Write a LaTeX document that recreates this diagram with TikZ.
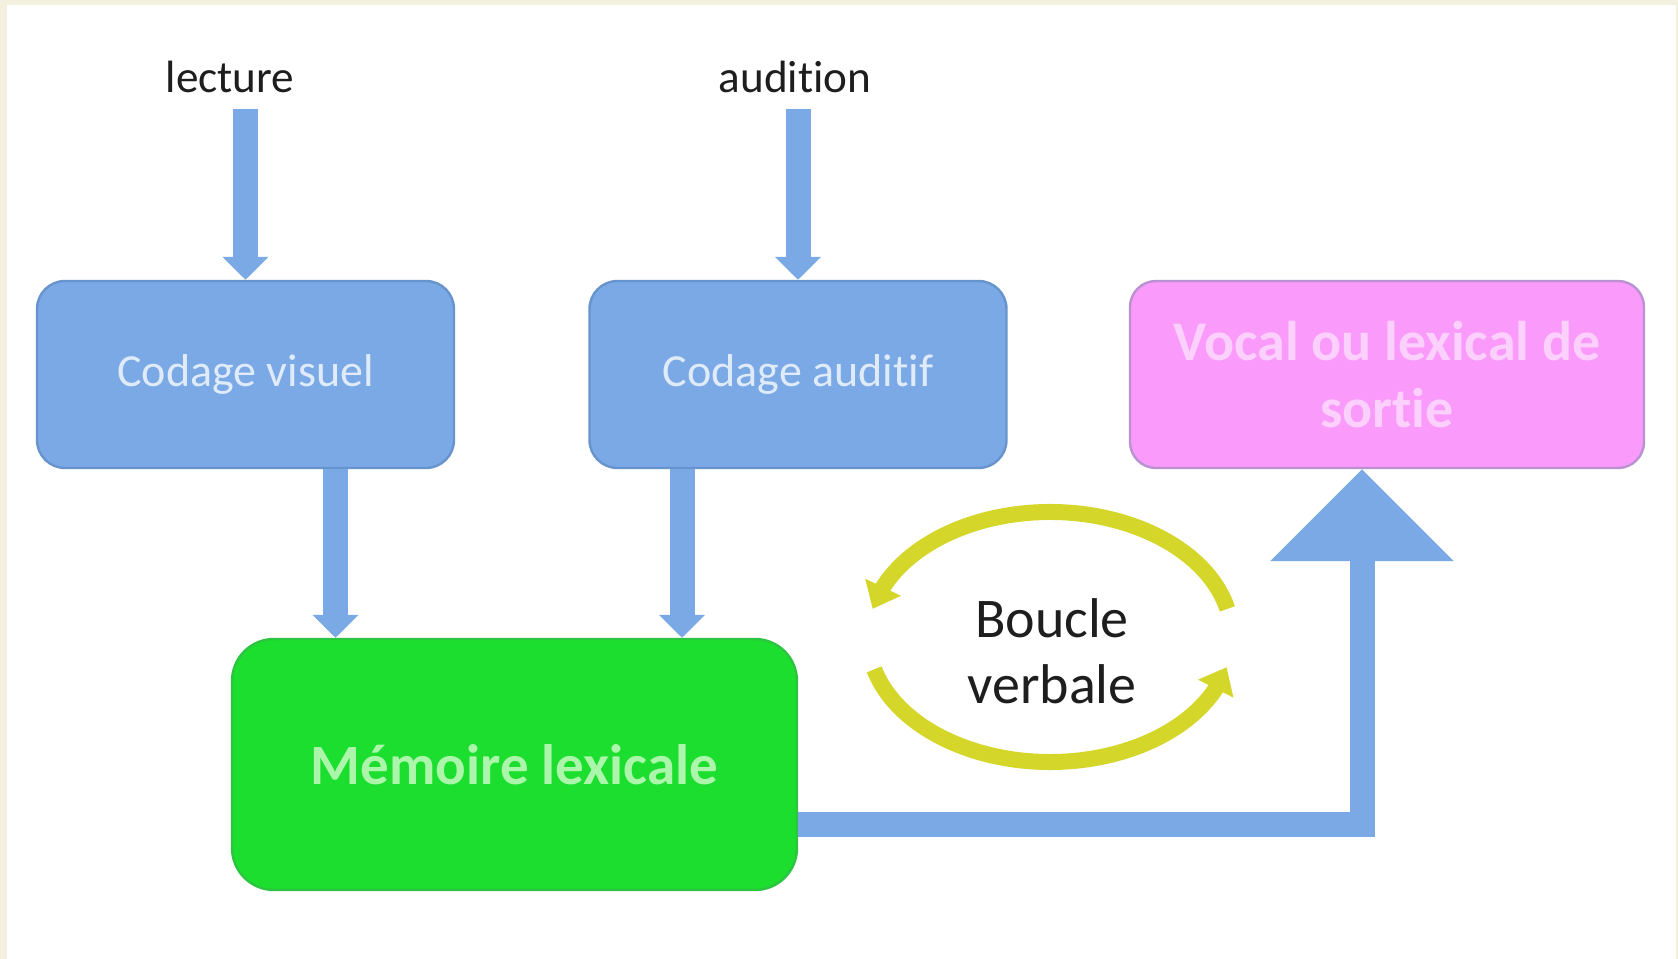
\documentclass[tikz,border=0pt]{standalone}
\usepackage{fontspec}
\setmainfont[Ligatures=NoCommon]{Carlito}
\usetikzlibrary{arrows,arrows.meta,bending}

\definecolor{frame}{RGB}{243,240,224}
\definecolor{codblue}{RGB}{122,169,230}
\definecolor{codedge}{RGB}{104,148,206}
\definecolor{codtext}{RGB}{224,235,250}
\definecolor{sortie}{RGB}{250,154,250}
\definecolor{sortieedge}{RGB}{186,146,210}
\definecolor{sortietext}{RGB}{252,208,252}
\definecolor{memgreen}{RGB}{28,222,46}
\definecolor{memedge}{RGB}{44,196,64}
\definecolor{memtext}{RGB}{172,246,172}
\definecolor{loopyellow}{RGB}{212,214,42}

\begin{document}
\begin{tikzpicture}[x=0.5pt,y=0.5pt,line join=miter,
  box/.style={rectangle,rounded corners=14pt,draw=codedge,line width=1.2pt,fill=codblue,
    text=codtext,minimum width=208.5pt,minimum height=93.5pt,font=\fontsize{23}{28}\selectfont},
  label node/.style={inner sep=0pt,text={rgb,255:red,30;green,30;blue,30},font=\fontsize{22.6}{27}\selectfont},
  thin arrow/.style={draw=codblue,line width=12.5pt,-{Triangle[width=22.5pt,length=11.5pt]}},
  big arrow/.style={draw=codblue,line width=12.5pt,-{Triangle[width=89pt,length=46pt]}},
  loop arrow/.style={draw=loopyellow,line width=8pt,-{Triangle[width=19pt,length=12pt]}}]

  % fond
  \fill[frame] (0,0) rectangle (1678,959);
  \fill[white] (7,0) rectangle (1676,954);
  \useasboundingbox (0,0) rectangle (1678,959);

  \node[label node] (lec) at (230,882) {lecture};
  \node[label node] (aud) at (795,882) {audition};

  \node[box] (cv) at (245.5,584.5) {Codage visuel};
  \node[box] (ca) at (798,584.5) {Codage auditif};
  \node[box,fill=sortie,draw=sortieedge,text=sortietext,minimum width=257pt,rounded corners=13pt,
    align=center,font=\fontsize{28}{33.5}\selectfont\bfseries] (vo) at (1387,584.5)
    {Vocal ou lexical de\\sortie};
  \node[box,fill=memgreen,draw=memedge,text=memtext,minimum width=282.5pt,minimum height=125.5pt,
    rounded corners=21pt,font=\fontsize{28.5}{33}\selectfont\bfseries] (mem) at (514.5,194.5)
    {Mémoire lexicale};

  \node[align=center,text={rgb,255:red,30;green,30;blue,30},font=\fontsize{28}{33}\selectfont] (bv)
    at (1052,308) {Boucle\\verbale};
  \coordinate (loopc) at (1050,322);

  % entrees
  \draw[thin arrow,shorten <=8pt] (lec.south -| cv.north) -- (cv.north);
  \draw[thin arrow,shorten <=8pt] (aud.south -| ca.north) -- (ca.north);
  \draw[thin arrow] ([xshift=45pt]cv.south) -- ([xshift=45pt]cv.south |- mem.north);
  \draw[thin arrow] ([xshift=-58pt]ca.south) -- ([xshift=-58pt]ca.south |- mem.north);

  % sortie
  \draw[big arrow] ([yshift=-30pt]mem.east) -| ([xshift=-12.5pt]vo.south);

  % boucle
  \draw[loop arrow] (loopc) ++(13:182 and 125) arc[start angle=13,end angle=167,x radius=182,y radius=125];
  \draw[loop arrow] (loopc) ++(195:182 and 125) arc[start angle=195,end angle=346,x radius=182,y radius=125];
\end{tikzpicture}
\end{document}
